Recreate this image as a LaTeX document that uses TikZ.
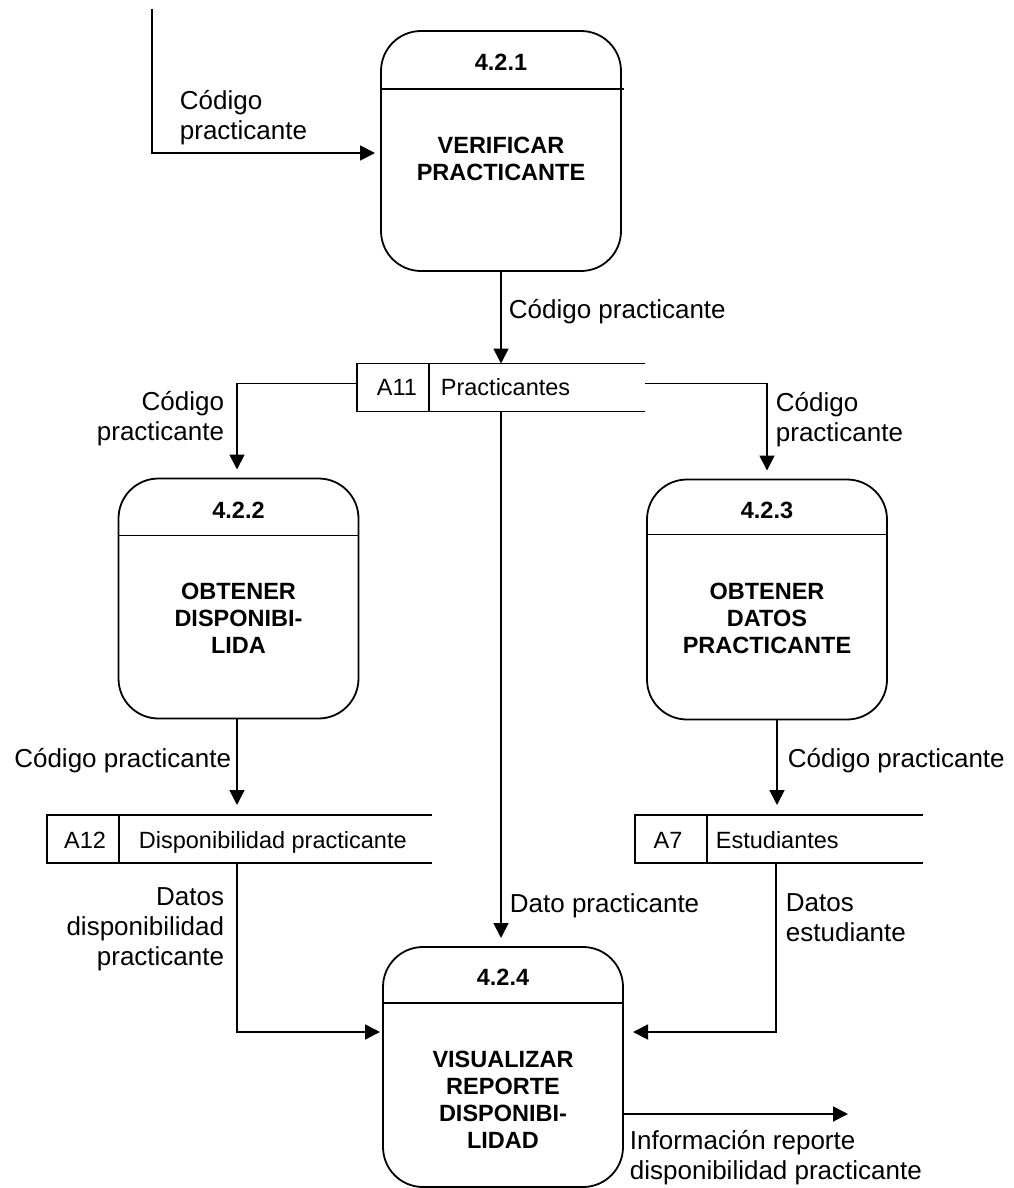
\documentclass[tikz,border=0pt]{standalone}
\usepackage{fontspec}
\setmainfont{Liberation Sans}
\usetikzlibrary{arrows.meta,calc}
\begin{document}
\begin{tikzpicture}[x=1pt,y=-1pt,
  line width=1.8pt,
  proc/.style={draw, rounded corners=40pt, minimum width=240pt, minimum height=240pt, inner sep=0pt, outer sep=0pt},
  store/.style={inner sep=0pt, outer sep=0pt, minimum height=48pt},
  flow/.style={-{Triangle[length=15pt,width=15pt]}, line width=1.8pt},
  lbl/.style={inner sep=0pt, font=\fontsize{26}{30}\selectfont},
  pid/.style={inner sep=0pt, font=\bfseries\fontsize{23.5}{27}\selectfont, anchor=base},
  ptitle/.style={inner sep=0pt, font=\bfseries\fontsize{23.5}{27}\selectfont, align=center, anchor=north},
  stext/.style={inner sep=0pt, font=\fontsize{23.5}{27}\selectfont},
]
\useasboundingbox (0,0) rectangle (1013,1188);

% processes
\node[proc] (p1) at (501,151) {};
\node[proc] (p2) at (238.5,598.5) {};
\node[proc] (p3) at (767,599.5) {};
\node[proc] (p4) at (503,1067) {};
\draw ($(p1.north west)+(0,58)$) -- ($(p1.north east)+(3,58)$);
\draw ($(p2.north west)+(0,57)$) -- ($(p2.north east)+(0,57)$);
\draw ($(p3.north west)+(0,55)$) -- ($(p3.north east)+(0,55)$);
\draw ($(p4.north west)+(0,56)$) -- ($(p4.north east)+(0,56)$);

\node[pid] (p1n) at (501,71) {4.2.1};
\node[ptitle] (p1t) at (501,136) {VERIFICAR\\PRACTICANTE};
\node[pid] (p2n) at (238.5,518) {4.2.2};
\node[ptitle] (p2t) at (238.5,582) {OBTENER\\DISPONIBI-\\LIDA};
\node[pid] (p3n) at (767,518) {4.2.3};
\node[ptitle] (p3t) at (767,582) {OBTENER\\DATOS\\PRACTICANTE};
\node[pid] (p4n) at (503,985) {4.2.4};
\node[ptitle] (p4t) at (503,1050) {VISUALIZAR\\REPORTE\\DISPONIBI-\\LIDAD};

% data stores
\node[store, minimum width=288pt] (s1) at (501,387.5) {};
\draw (s1.north east) -- (s1.north west) -- (s1.south west) -- (s1.south east);
\draw ($(s1.north west)+(72,0)$) -- ($(s1.south west)+(72,0)$);
\node[stext, anchor=base] (s1id) at (397,395) {A11};
\node[stext, anchor=base west] (s1nm) at (440,395) {Practicantes};

\node[store, minimum width=385pt] (s2) at (239.5,839) {};
\draw (s2.north east) -- (s2.north west) -- (s2.south west) -- (s2.south east);
\draw ($(s2.north west)+(72,0)$) -- ($(s2.south west)+(72,0)$);
\node[stext, anchor=base] (s2id) at (85,848) {A12};
\node[stext, anchor=base west] (s2nm) at (138,848) {Disponibilidad practicante};

\node[store, minimum width=288pt] (s3) at (779,839) {};
\draw (s3.north east) -- (s3.north west) -- (s3.south west) -- (s3.south east);
\draw ($(s3.north west)+(72,0)$) -- ($(s3.south west)+(72,0)$);
\node[stext, anchor=base] (s3id) at (668,848) {A7};
\node[stext, anchor=base west] (s3nm) at (715,848) {Estudiantes};

% flows
\coordinate (src) at (152,9);
\coordinate (sink) at (848,1114);
\draw[flow, shorten >=6pt] (src) |- ([yshift=-2pt]p1.west);
\draw[flow] (p1.south) -- (s1.north);
\draw[flow, shorten >=9pt] ([yshift=4pt]s1.west) -| ([xshift=-1.5pt]p2.north);
\draw[flow, shorten >=9pt] ([yshift=4pt]s1.east) -| (p3.north);
\draw[flow, shorten >=9pt] (s1.south) -- (s1.south |- p4.north);
\draw[flow, shorten >=10pt] ([xshift=-1.5pt]p2.south) -- ([xshift=-1.5pt]p2.south |- s2.north);
\draw[flow, shorten >=10pt] ([xshift=10pt]p3.south) -- ([xshift=10pt]p3.south |- s3.north);
\draw[flow, shorten >=3pt] ([xshift=-2.5pt]s2.south) |- ([yshift=35pt]p4.west);
\draw[flow, shorten >=10pt] ([xshift=-3pt]s3.south) |- ([yshift=35pt]p4.east);
\draw[flow] ([yshift=-47pt]p4.east) -- (sink);

% labels
\node[lbl, align=left, anchor=north west] (l1) at (179,89) {Código\\practicante};
\node[lbl, anchor=base west] (l2) at (508,318) {Código practicante};
\node[lbl, align=right, anchor=north east] (l3) at (225,390) {Código\\practicante};
\node[lbl, align=left, anchor=north west] (l4) at (775,391) {Código\\practicante};
\node[lbl, anchor=base east] (l5) at (232,767) {Código practicante};
\node[lbl, anchor=base west] (l6) at (787,767) {Código practicante};
\node[lbl, anchor=base west] (l7) at (509,912) {Dato practicante};
\node[lbl, align=left, anchor=north west] (l8) at (785,893) {Datos\\estudiante};
\node[lbl, align=right, anchor=north east] (l9) at (225,887) {Datos\\disponibilidad\\practicante};
\node[lbl, align=left, anchor=north west] (l10) at (629,1129) {Información reporte\\disponibilidad practicante};
\end{tikzpicture}
\end{document}
